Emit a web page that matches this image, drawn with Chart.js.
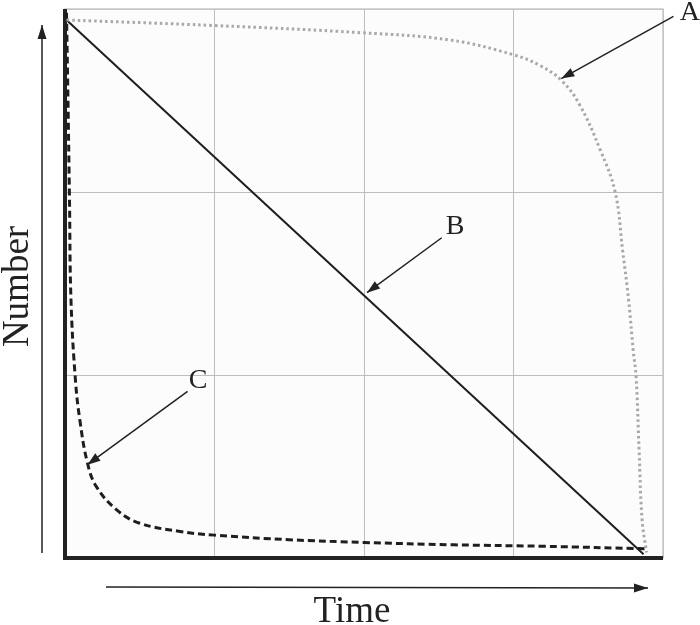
<!DOCTYPE html>
<html>
<head>
<meta charset="utf-8">
<script src="https://cdn.jsdelivr.net/npm/chart.js@4"></script>
<style>
  html, body { margin: 0; padding: 0; background: #fff; }
  #wrap { width: 700px; height: 625px; }
</style>
</head>
<body>
<div id="wrap"><canvas id="chartCanvas"></canvas></div>
<script>
"use strict";

// curve A (dotted grey)
const aTime   = [0.01, 0.99, 1.99, 2.58, 3.00, 3.18, 3.32, 3.44, 3.58, 3.68, 3.73, 3.77, 3.80, 3.82, 3.84, 3.86, 3.89];
const aNumber = [2.94, 2.91, 2.87, 2.83, 2.75, 2.69, 2.61, 2.48, 2.23, 2.00, 1.68, 1.41, 1.14, 0.99, 0.59, 0.21, 0.03];

// curve B (solid straight line)
const bTime   = [0.01, 3.87];
const bNumber = [2.94, 0.02];

// curve C (dashed)
const cTime   = [0.01, 0.02, 0.03, 0.04, 0.07, 0.10, 0.15, 0.21, 0.35, 0.50, 0.77, 1.00, 1.50, 2.00, 2.60, 3.20, 3.89];
const cNumber = [2.98, 2.50, 1.96, 1.41, 0.97, 0.75, 0.52, 0.39, 0.26, 0.19, 0.145, 0.125, 0.10, 0.085, 0.072, 0.064, 0.05];

const xLabel = 'Time';
const yLabel = 'Number';

// arrow labels in data units
const notes = [
    { text: 'A', at: [4.18, 2.98], from: [4.07, 2.96], to: [3.32, 2.62] },
    { text: 'B', at: [2.61, 1.81], from: [2.52, 1.75], to: [2.02, 1.45] },
    { text: 'C', at: [0.89, 0.97], from: [0.82, 0.91], to: [0.15, 0.51] }
];

const toPoints = (xs, ys) => xs.map((x, i) => ({ x: x, y: ys[i] }));

function arrowHead(ctx, x1, y1, x2, y2, len, half) {
    const ang = Math.atan2(y2 - y1, x2 - x1);
    ctx.beginPath();
    ctx.moveTo(x2, y2);
    ctx.lineTo(x2 - len * Math.cos(ang) + half * Math.sin(ang), y2 - len * Math.sin(ang) - half * Math.cos(ang));
    ctx.lineTo(x2 - len * Math.cos(ang) - half * Math.sin(ang), y2 - len * Math.sin(ang) + half * Math.cos(ang));
    ctx.closePath();
    ctx.fill();
}

function arrow(ctx, x1, y1, x2, y2, len, half) {
    ctx.beginPath();
    ctx.moveTo(x1, y1);
    ctx.lineTo(x2, y2);
    ctx.stroke();
    arrowHead(ctx, x1, y1, x2, y2, len, half);
}

const decor = {
    id: 'decor',
    beforeDraw(chart) {
        const { ctx, chartArea: a } = chart;
        ctx.save();
        ctx.fillStyle = '#ffffff';
        ctx.fillRect(0, 0, chart.width, chart.height);
        ctx.fillStyle = '#fcfcfc';
        ctx.fillRect(a.left, a.top, a.right - a.left, a.bottom - a.top);
        ctx.restore();
    },
    beforeDatasetsDraw(chart) {
        const { ctx, chartArea: a } = chart;
        ctx.save();
        ctx.strokeStyle = '#c8c8c8';
        ctx.lineWidth = 1.5;
        ctx.strokeRect(a.left, a.top, a.right - a.left, a.bottom - a.top);
        ctx.strokeStyle = '#222';
        ctx.lineWidth = 4;
        ctx.beginPath();
        ctx.moveTo(a.left, a.top);
        ctx.lineTo(a.left, a.bottom);
        ctx.lineTo(a.right, a.bottom);
        ctx.stroke();
        ctx.restore();
    },
    afterDraw(chart) {
        const { ctx, chartArea: a, scales } = chart;
        const px = v => scales.x.getPixelForValue(v);
        const py = v => scales.y.getPixelForValue(v);
        ctx.save();
        ctx.strokeStyle = '#222';
        ctx.fillStyle = '#222';

        // axis direction arrows
        ctx.lineWidth = 1.5;
        arrow(ctx, a.left - 23, a.bottom - 5, a.left - 23, a.top + 16, 14, 4.5);
        arrow(ctx, a.left + 41, a.bottom + 29, a.right - 15, a.bottom + 30, 14, 4.5);

        // axis titles
        ctx.font = '37px "Liberation Serif", "Times New Roman", serif';
        ctx.textAlign = 'center';
        ctx.textBaseline = 'alphabetic';
        ctx.fillText(xLabel, a.left + 287, a.bottom + 64);
        ctx.save();
        ctx.translate(a.left - 37, (a.top + a.bottom) / 2 + 3);
        ctx.rotate(-Math.PI / 2);
        ctx.fillText(yLabel, 0, 0);
        ctx.restore();

        // labelled arrows
        ctx.font = '28px "Liberation Serif", "Times New Roman", serif';
        ctx.textBaseline = 'middle';
        ctx.lineWidth = 1.5;
        notes.forEach(n => {
            ctx.fillText(n.text, px(n.at[0]), py(n.at[1]));
            arrow(ctx, px(n.from[0]), py(n.from[1]), px(n.to[0]), py(n.to[1]), 13, 4.5);
        });
        ctx.restore();
    }
};

const scaleBase = {
    type: 'linear',
    ticks: { display: false, stepSize: 1 },
    grid: { color: '#bdbdbd', lineWidth: 1, drawTicks: false },
    border: { display: false },
    afterFit: s => { s.width = s.isHorizontal() ? s.width : 0; s.height = s.isHorizontal() ? 0 : s.height; }
};

const ctx = document.getElementById('chartCanvas').getContext('2d');
const chart = new Chart(ctx, {
    type: 'line',
    data: {
        datasets: [{
            label: 'A',
            data: toPoints(aTime, aNumber),
            borderColor: '#a8a8a8',
            borderWidth: 3,
            borderDash: [2.5, 3],
            pointRadius: 0,
            tension: 0.4
        }, {
            label: 'B',
            data: toPoints(bTime, bNumber),
            borderColor: '#1e1e1e',
            borderWidth: 2,
            pointRadius: 0
        }, {
            label: 'C',
            data: toPoints(cTime, cNumber),
            borderColor: '#1e1e1e',
            borderWidth: 3,
            borderDash: [7, 4],
            pointRadius: 0,
            tension: 0.4
        }]
    },
    options: {
        responsive: true,
        maintainAspectRatio: false,
        animation: false,
        layout: { padding: { left: 65, right: 37, top: 9, bottom: 67 } },
        plugins: { legend: { display: false }, tooltip: { enabled: false } },
        scales: {
            x: Object.assign({}, scaleBase, { min: 0, max: 4 }),
            y: Object.assign({}, scaleBase, { min: 0, max: 3 })
        }
    },
    plugins: [decor]
});
</script>
</body>
</html>
